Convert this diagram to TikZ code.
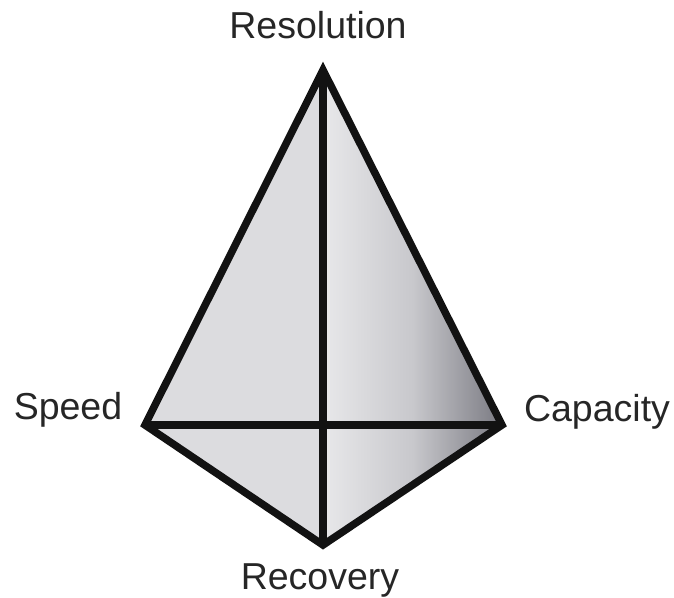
\documentclass[tikz,border=0pt]{standalone}
\usepackage{fontspec}
\setmainfont{Liberation Sans}
\definecolor{facelight}{HTML}{DCDCDF}
\definecolor{shadelight}{HTML}{E8E8EA}
\definecolor{shademid}{HTML}{C8C8CC}
\definecolor{shadedark}{HTML}{7A7A82}
\definecolor{edge}{HTML}{121212}
\begin{document}
\begin{tikzpicture}[x=1pt,y=-1pt,
  edgeline/.style={draw=edge,line width=7.5pt,line join=miter,line cap=butt},
  lbl/.style={font=\fontsize{37.5}{42}\selectfont,text=black!85,inner sep=0pt,anchor=base}]
\useasboundingbox (0,0) rectangle (674,597);
\coordinate (T) at (323,70);
\coordinate (L) at (145,425);
\coordinate (R) at (502,425);
\coordinate (B) at (323,545);
% left faces
\fill[facelight] (T) -- (L) -- (B) -- cycle;
% right faces shaded
\shade[left color=shadelight,right color=shadedark,middle color=shademid] (T) -- (R) -- (B) -- cycle;
% edges
\draw[edgeline] (T) -- (L) -- (B) -- (R) -- cycle;
\draw[edgeline] (T) -- (B);
\draw[edgeline] (L) -- (R);
% labels
\node[lbl] (res) at (318,38) {Resolution};
\node[lbl] (spd) at (68,419) {Speed};
\node[lbl] (cap) at (597,421) {Capacity};
\node[lbl] (rec) at (320,589) {Recovery};
\end{tikzpicture}
\end{document}
